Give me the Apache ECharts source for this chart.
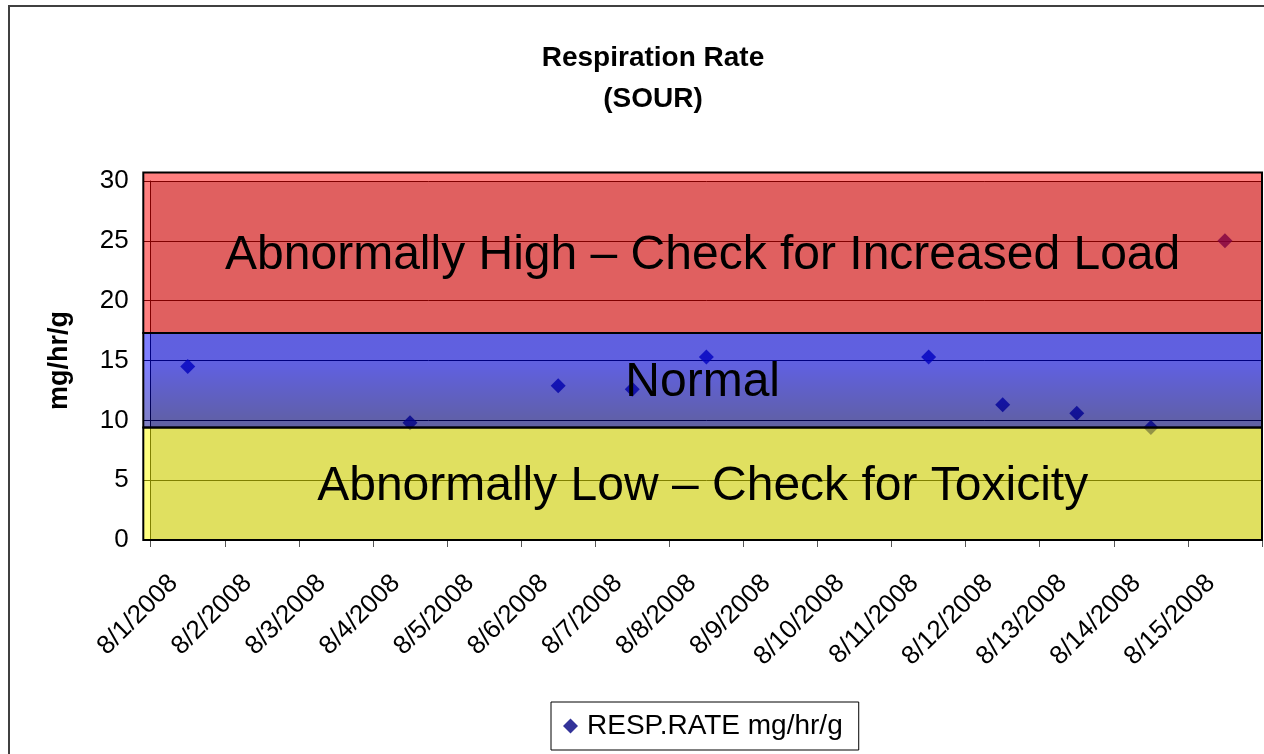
<!DOCTYPE html>
<html>
<head>
<meta charset="utf-8">
<script src="https://cdn.jsdelivr.net/npm/echarts@6/dist/echarts.min.js"></script>
<style>
html,body{margin:0;padding:0;background:#fff;}
#chart{width:1264px;height:754px;}
</style>
</head>
<body>
<div id="chart"></div>
<script>
// ---- data ----
var dates = ['8/1/2008','8/2/2008','8/3/2008','8/4/2008','8/5/2008','8/6/2008','8/7/2008','8/8/2008',
             '8/9/2008','8/10/2008','8/11/2008','8/12/2008','8/13/2008','8/14/2008','8/15/2008'];
var respRate = [14.5, null, null, 9.8, null, 12.9, 12.6, 15.3, null, null, 15.3, 11.3, 10.6, 9.4, 25.0];
var yTicks = [0, 5, 10, 15, 20, 25, 30];
var bandLow = [0, 9.4, 17.3];
var bandHigh = [9.4, 17.3, 30.7];
var bandLabels = ['Abnormally Low \u2013 Check for Toxicity', 'Normal', 'Abnormally High \u2013 Check for Increased Load'];
var seriesName = 'RESP.RATE mg/hr/g';

var FONT = '"Liberation Sans", Arial, sans-serif';
var bandFills = [
  'rgba(255,255,0,0.5)',
  {type:'linear', x:0, y:0, x2:0, y2:1, colorStops:[
    {offset:0, color:'rgba(0,0,255,0.5)'},
    {offset:0.35, color:'rgba(0,0,255,0.5)'},
    {offset:1, color:'rgba(0,0,128,0.5)'}]},
  'rgba(255,0,0,0.5)'
];

var bandData = bandLow.map(function(lo, i){ return [lo, bandHigh[i], i]; });
var scatterData = respRate.map(function(v, i){ return [dates[i], v]; }).filter(function(d){ return d[1] != null; });

var chart = echarts.init(document.getElementById('chart'), null, {renderer:'canvas'});
chart.setOption({
  backgroundColor: '#ffffff',
  animation: false,
  textStyle: {fontFamily: FONT},
  title: {
    text: 'Respiration Rate\n(SOUR)',
    left: 648, top: 33, textAlign: 'center',
    textStyle: {fontFamily: FONT, fontSize: 28, fontWeight: 'bold', color: '#000', lineHeight: 41}
  },
  legend: {
    data: [seriesName],
    left: 551, top: 702,
    orient: 'horizontal',
    borderColor: '#000', borderWidth: 1,
    padding: [10, 16, 10, 12],
    icon: 'diamond', itemWidth: 15, itemHeight: 15,
    textStyle: {fontFamily: FONT, fontSize: 28, color: '#000', padding: [0,0,0,4]}
  },
  graphic: [{
    type: 'rect', z: -10, silent: true,
    shape: {x: 9, y: 6, width: 1300, height: 800},
    style: {fill: 'none', stroke: '#404040', lineWidth: 2}
  }],
  grid: [
    {left: 150.7, right: 2, top: 181, bottom: 214, show: true, backgroundColor: '#c0c0c0', borderWidth: 0},
    {left: 143.3, right: 2, top: 172.6, bottom: 214, show: false}
  ],
  xAxis: [
    {type: 'category', gridIndex: 0, data: dates, boundaryGap: true,
     axisLine: {show: true, lineStyle: {color: '#000', width: 2}},
     axisTick: {show: true, length: 7, interval: 0, lineStyle: {color: '#555', width: 1}},
     axisLabel: {interval: 0, rotate: 45, fontSize: 26, color: '#000', fontFamily: FONT, margin: 25,
                 padding: [0, 20, 0, 0]},
     splitLine: {show: false}},
    {type: 'value', gridIndex: 1, min: 0, max: 1, show: false}
  ],
  yAxis: [
    {type: 'value', gridIndex: 0, min: yTicks[0], max: yTicks[yTicks.length-1], interval: 5,
     name: 'mg/hr/g', nameLocation: 'middle', nameRotate: 90, nameGap: 78,
     nameTextStyle: {fontFamily: FONT, fontSize: 27, fontWeight: 'bold', color: '#000'},
     axisLine: {show: true, lineStyle: {color: '#000', width: 1}},
     axisTick: {show: true, length: 7, lineStyle: {color: '#000'}},
     axisLabel: {fontSize: 26, color: '#000', fontFamily: FONT, margin: 22},
     splitLine: {show: true, lineStyle: {color: '#000', width: 1, type: 'solid'}}},
    {type: 'value', gridIndex: 1, min: 0, max: bandHigh[bandHigh.length-1], show: false}
  ],
  series: [
    {
      name: seriesName, type: 'scatter', xAxisIndex: 0, yAxisIndex: 0, z: 2,
      symbol: 'diamond', symbolSize: 15,
      itemStyle: {color: '#000080'},
      data: scatterData
    },
    {
      type: 'custom', xAxisIndex: 1, yAxisIndex: 1, z: 5, silent: true,
      data: bandData,
      encode: {y: [0, 1]},
      renderItem: function(params, api){
        var lo = api.value(0), hi = api.value(1), idx = api.value(2);
        var p0 = api.coord([0, hi]);
        var p1 = api.coord([1, lo]);
        var x = p0[0], y = p0[1], w = p1[0]-p0[0], h = p1[1]-p0[1];
        return {
          type: 'group',
          children: [
            {type: 'rect', shape: {x: x, y: y, width: w, height: h},
             style: {fill: bandFills[idx], stroke: '#000', lineWidth: 2}},
            {type: 'text', z2: 10,
             style: {text: bandLabels[idx], x: x + w/2, y: y + h/2 + 3, align: 'center', verticalAlign: 'middle',
                     font: '48px ' + FONT, fill: '#000'}}
          ]
        };
      }
    }
  ]
});
</script>
</body>
</html>
